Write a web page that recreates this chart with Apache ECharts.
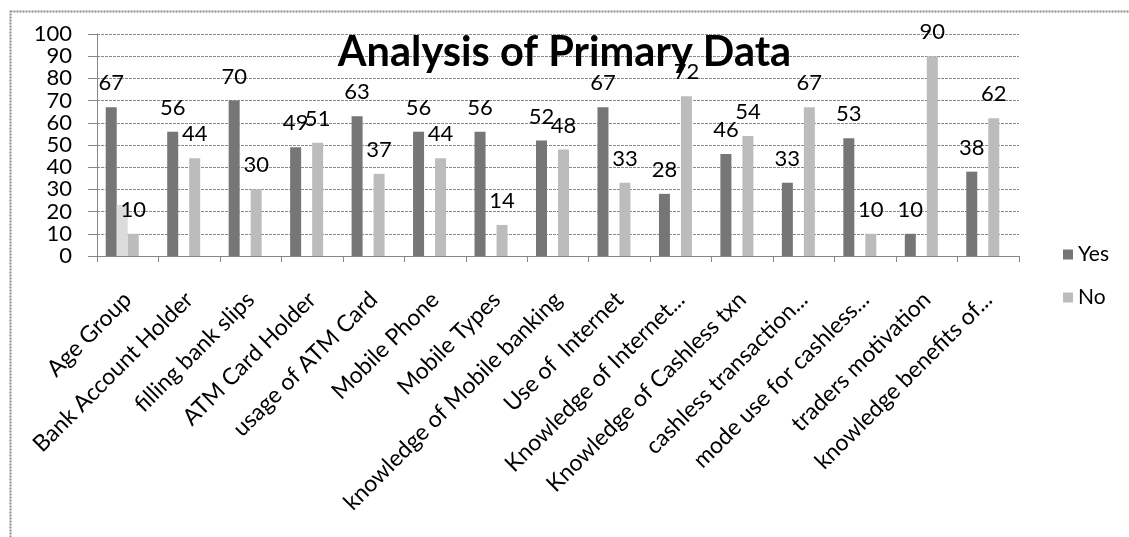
<!DOCTYPE html>
<html>
<head>
<meta charset="utf-8">
<script src="https://cdn.jsdelivr.net/npm/echarts@6/dist/echarts.min.js"></script>
<style>
  html, body { margin: 0; padding: 0; background: #fff; }
  #chart { width: 1129px; height: 537px; }
</style>
</head>
<body>
<div id="chart"></div>
<script>
  var categories = ['Age Group', 'Bank Account Holder', 'filling bank slips', 'ATM Card Holder',
    'usage of ATM Card', 'Mobile Phone', 'Mobile Types', 'knowledge of Mobile banking',
    'Use of  Internet', 'Knowledge of Internet...', 'Knowledge of Cashless txn',
    'cashless transaction...', 'mode use for cashless...', 'traders motivation',
    'knowledge benefits of...']
  var yesValues = [67, 56, 70, 49, 63, 56, 56, 52, 67, 28, 46, 33, 53, 10, 38]
  var noValues = [10, 44, 30, 51, 37, 44, 14, 48, 33, 72, 54, 67, 10, 90, 62]
  // leftover bar visible behind "Age Group" in the original
  var strayValues = [23, null, null, null, null, null, null, null, null, null, null, null, null, null, null]
  var yTicks = [0, 10, 20, 30, 40, 50, 60, 70, 80, 90, 100]

  var font = 'Lato, "Open Sans", sans-serif'
  var labelStyle = {
    show: true,
    position: 'top',
    distance: 13,
    color: '#000',
    fontFamily: font,
    fontSize: 22
  }

  var mychar = echarts.init(document.getElementById('chart'))
  var option = {
    animation: false,
    title: {
      text: 'Analysis of Primary Data',
      left: 'center',
      top: 27,
      textStyle: { fontFamily: font, fontWeight: 'bold', fontSize: 41.5, color: '#000' }
    },
    legend: {
      data: ['Yes', 'No'],
      orient: 'vertical',
      left: 1058,
      top: 239,
      itemWidth: 10,
      itemHeight: 10,
      itemGap: 22,
      icon: 'rect',
      textStyle: { fontFamily: font, fontSize: 21, color: '#000' }
    },
    graphic: [{
      type: 'rect',
      left: 8,
      top: 9,
      shape: { width: 1140, height: 560 },
      style: { fill: 'none', stroke: '#8c8c8c', lineWidth: 2, lineDash: [2, 1] },
      silent: true
    }],
    grid: { left: 97, right: 110, top: 34, bottom: 281, containLabel: false },
    xAxis: {
      type: 'category',
      data: categories,
      axisLine: { lineStyle: { color: '#868686', width: 1 } },
      axisTick: { show: true, length: 6, lineStyle: { color: '#868686' } },
      axisLabel: {
        interval: 0,
        rotate: 45,
        margin: 40,
        color: '#000',
        fontFamily: font,
        fontSize: 23
      }
    },
    yAxis: {
      type: 'value',
      min: 0,
      max: 100,
      interval: 10,
      axisLine: { show: true, lineStyle: { color: '#868686' } },
      axisTick: { show: true, length: 9, lineStyle: { color: '#868686' } },
      splitLine: { lineStyle: { color: '#8a8a8a', width: 1, type: [3, 1] } },
      axisLabel: {
        margin: 25,
        color: '#000',
        fontFamily: font,
        fontSize: 22,
        formatter: function (v) { return yTicks.indexOf(v) >= 0 ? String(v) : '' }
      }
    },
    series: [
      {
        name: 'Yes',
        type: 'bar',
        data: yesValues,
        barWidth: 11,
        barGap: '0%',
        itemStyle: { color: '#767676' },
        label: labelStyle
      },
      {
        name: 'stray',
        type: 'bar',
        data: strayValues,
        barWidth: 11,
        barGap: '0%',
        itemStyle: { color: '#dcdcdc' }
      },
      {
        name: 'No',
        type: 'bar',
        data: noValues,
        barWidth: 11,
        barGap: '0%',
        itemStyle: { color: '#bcbcbc' },
        label: labelStyle
      },
      {
        name: 'spare',
        type: 'bar',
        data: [],
        barWidth: 11,
        barGap: '0%'
      }
    ]
  }
  mychar.setOption(option)
</script>
</body>
</html>
